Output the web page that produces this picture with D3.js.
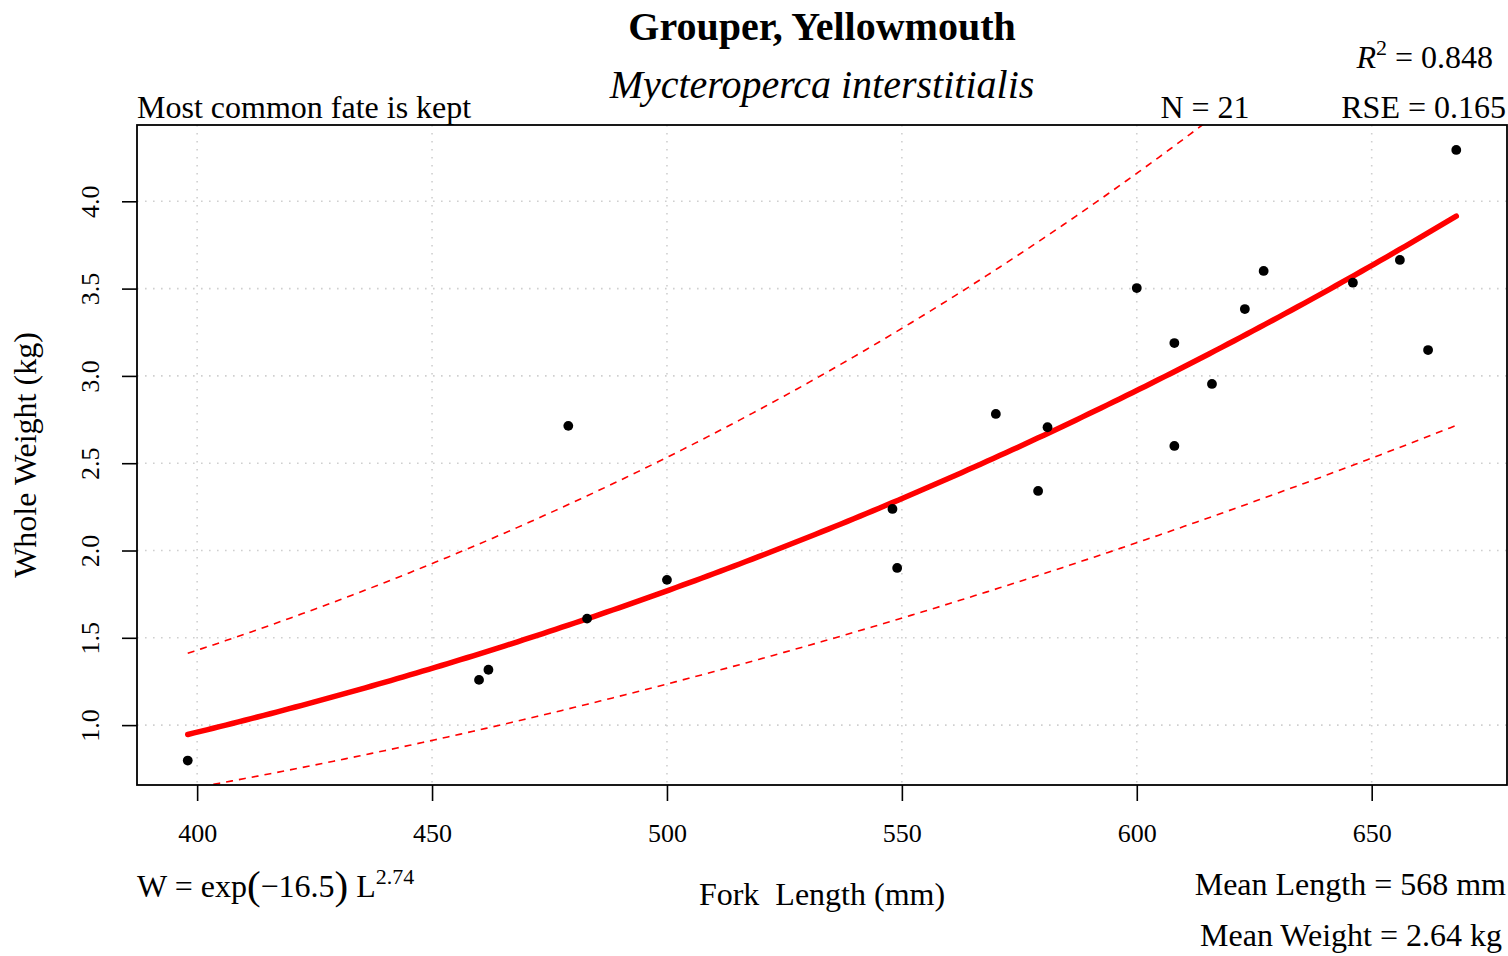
<!DOCTYPE html>
<html>
<head>
<meta charset="utf-8">
<script src="https://cdn.jsdelivr.net/npm/d3@7"></script>
<style>
  html, body { margin: 0; padding: 0; background: #fff; }
  svg text { font-family: "Liberation Serif", "Times New Roman", serif; fill: #000; }
</style>
</head>
<body>
<svg id="chart" width="1508" height="956"></svg>
<script>
// Fork length (mm) and whole weight (kg) of each sampled fish
const forkLength = [398, 460, 462, 479, 483, 500, 548, 549, 570, 579, 581,
                    600, 608, 608, 616, 623, 627, 646, 656, 662, 668];
const wholeWeight = [0.797, 1.259, 1.317, 2.714, 1.610, 1.832, 2.238, 1.900, 2.782, 2.341, 2.706,
                     3.503, 3.188, 2.599, 2.954, 3.383, 3.601, 3.534, 3.664, 3.148, 4.294];

// Length–weight model W = exp(a) * L^b, fitted on the log scale
const logIntercept = -16.47;
const exponent = 2.742;
const rse = 0.165;
const rSquared = 0.848;
const tQuantile = 2.093; // t(0.975, df = 19)

const xTicks = [400, 450, 500, 550, 600, 650];
const yTicks = [1.0, 1.5, 2.0, 2.5, 3.0, 3.5, 4.0];

const svg = d3.select("#chart");
const box = { left: 137, right: 1507, top: 125, bottom: 785 };
const labelSize = 32;

const x = d3.scaleLinear().domain([387.2, 678.8]).range([box.left, box.right]);
const y = d3.scaleLinear().domain([0.657, 4.437]).range([box.bottom, box.top]);

// Grid
const grid = svg.append("g").attr("stroke", "#cfcfcf").attr("stroke-width", 1.6)
  .attr("stroke-dasharray", "1.6,6.4");
grid.selectAll("line.v").data(xTicks).join("line")
  .attr("x1", d => x(d)).attr("x2", d => x(d)).attr("y1", box.top).attr("y2", box.bottom);
grid.selectAll("line.h").data(yTicks).join("line")
  .attr("y1", d => y(d)).attr("y2", d => y(d)).attr("x1", box.left).attr("x2", box.right);

// Clip region for the curves
svg.append("clipPath").attr("id", "plotClip").append("rect")
  .attr("x", box.left).attr("y", box.top)
  .attr("width", box.right - box.left).attr("height", box.bottom - box.top);

// Prediction band from the log–log regression
const n = forkLength.length;
const logL = forkLength.map(Math.log);
const meanLogL = d3.mean(logL);
const sxx = d3.sum(logL, v => (v - meanLogL) ** 2);
const predict = L => Math.exp(logIntercept + exponent * Math.log(L));
const halfWidth = L => tQuantile * rse * Math.sqrt(1 + 1 / n + (Math.log(L) - meanLogL) ** 2 / sxx);

const lMin = d3.min(forkLength), lMax = d3.max(forkLength);
const gridL = d3.range(0, 201).map(i => lMin + (lMax - lMin) * i / 200);

const line = d3.line().x(d => x(d[0])).y(d => y(d[1]));
const curves = svg.append("g").attr("clip-path", "url(#plotClip)").attr("fill", "none");

curves.append("path")
  .datum(gridL.map(L => [L, predict(L) * Math.exp(halfWidth(L))]))
  .attr("d", line).attr("stroke", "#ff0000").attr("stroke-width", 1.6)
  .attr("stroke-dasharray", "7,6");
curves.append("path")
  .datum(gridL.map(L => [L, predict(L) * Math.exp(-halfWidth(L))]))
  .attr("d", line).attr("stroke", "#ff0000").attr("stroke-width", 1.6)
  .attr("stroke-dasharray", "7,6");
curves.append("path")
  .datum(gridL.map(L => [L, predict(L)]))
  .attr("d", line).attr("stroke", "#ff0000").attr("stroke-width", 5.5)
  .attr("stroke-linecap", "round");

// Observations
svg.append("g").selectAll("circle").data(forkLength.map((L, i) => [L, wholeWeight[i]]))
  .join("circle")
  .attr("cx", d => x(d[0])).attr("cy", d => y(d[1])).attr("r", 4.9).attr("fill", "#000");

// Axes
const xAxis = d3.axisBottom(x).tickValues(xTicks).tickSize(16).tickFormat(d3.format("d"));
const gx = svg.append("g").attr("transform", `translate(0,${box.bottom})`).call(xAxis);
gx.select(".domain").remove();
gx.selectAll(".tick line").attr("stroke", "#000").attr("stroke-width", 1.6);
gx.selectAll(".tick text").attr("font-size", 26).attr("font-family", "Liberation Serif")
  .attr("y", 57).attr("dy", null);

const yAxis = d3.axisLeft(y).tickValues(yTicks).tickSize(15).tickFormat(d3.format(".1f"));
const gy = svg.append("g").attr("transform", `translate(${box.left},0)`).call(yAxis);
gy.select(".domain").remove();
gy.selectAll(".tick line").attr("stroke", "#000").attr("stroke-width", 1.6);
gy.selectAll(".tick text")
  .attr("font-size", 26).attr("font-family", "Liberation Serif")
  .attr("x", null).attr("dy", null)
  .attr("text-anchor", "middle")
  .attr("transform", "translate(-38,0) rotate(-90)");

// Plot frame
svg.append("rect").attr("x", box.left).attr("y", box.top)
  .attr("width", box.right - box.left).attr("height", box.bottom - box.top)
  .attr("fill", "none").attr("stroke", "#000").attr("stroke-width", 1.8);

// Titles
const cx = (box.left + box.right) / 2;
svg.append("text").attr("x", cx).attr("y", 40).attr("text-anchor", "middle")
  .attr("font-size", 40).attr("font-weight", "bold").text("Grouper, Yellowmouth");
svg.append("text").attr("x", cx).attr("y", 98).attr("text-anchor", "middle")
  .attr("font-size", 40).attr("font-style", "italic").text("Mycteroperca interstitialis");

svg.append("text").attr("x", box.left).attr("y", 118).attr("font-size", labelSize)
  .text("Most common fate is kept");
svg.append("text").attr("x", 1205).attr("y", 118).attr("font-size", labelSize).attr("text-anchor", "middle")
  .text(`N = ${n}`);
svg.append("text").attr("x", 1506).attr("y", 118).attr("font-size", labelSize).attr("text-anchor", "end")
  .text(`RSE = ${d3.format(".3f")(rse)}`);

const r2 = svg.append("text").attr("x", 1493).attr("y", 68).attr("font-size", labelSize).attr("text-anchor", "end");
r2.append("tspan").attr("font-style", "italic").text("R");
r2.append("tspan").attr("font-size", 22).attr("dy", -13).text("2");
r2.append("tspan").attr("dy", 13).text(` = ${d3.format(".3f")(rSquared)}`);

// Axis titles
svg.append("text").attr("x", cx).attr("y", 905).attr("text-anchor", "middle")
  .attr("font-size", labelSize).style("white-space", "pre").text("Fork  Length (mm)");
svg.append("text").attr("transform", `translate(36,${(box.top + box.bottom) / 2}) rotate(-90)`)
  .attr("text-anchor", "middle").attr("font-size", labelSize).text("Whole Weight (kg)");

// Model equation
const eq = svg.append("text").attr("x", box.left).attr("y", 897).attr("font-size", labelSize);
eq.append("tspan").text("W = exp");
eq.append("tspan").attr("font-size", 41).attr("dy", 2).text("(");
eq.append("tspan").attr("dy", -2).text("\u2212" + d3.format(".1f")(Math.abs(logIntercept)));
eq.append("tspan").attr("font-size", 41).attr("dy", 2).text(")");
eq.append("tspan").attr("dy", -2).text(" L");
eq.append("tspan").attr("font-size", 22).attr("dy", -13).text(d3.format(".2f")(exponent));

// Sample means
svg.append("text").attr("x", 1506).attr("y", 895).attr("text-anchor", "end").attr("font-size", labelSize)
  .text(`Mean Length = ${d3.format(".0f")(d3.mean(forkLength))} mm`);
svg.append("text").attr("x", 1502).attr("y", 946).attr("text-anchor", "end").attr("font-size", labelSize)
  .text(`Mean Weight = ${d3.format(".2f")(d3.mean(wholeWeight))} kg`);
</script>
</body>
</html>
